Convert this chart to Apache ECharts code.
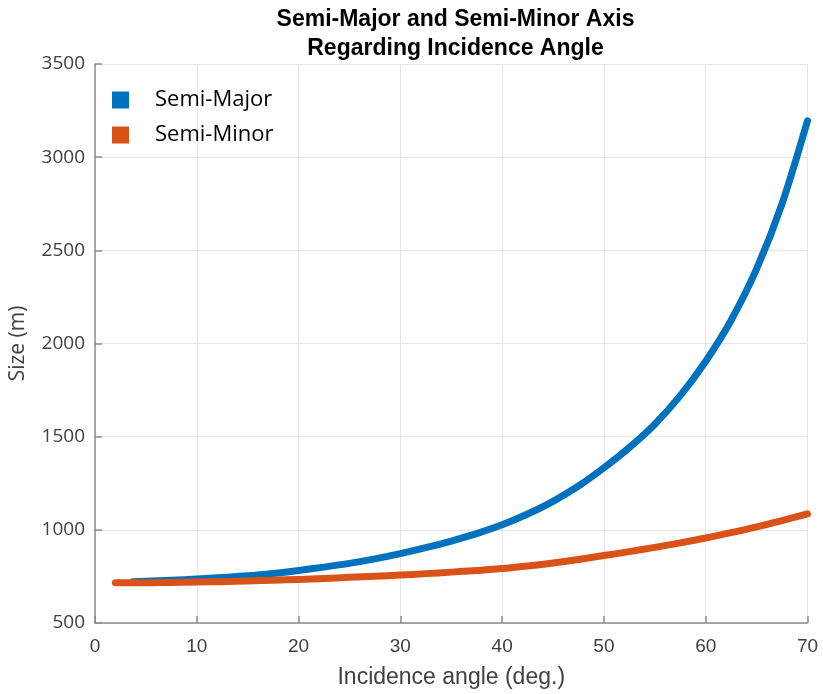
<!DOCTYPE html>
<html>
<head>
<meta charset="utf-8">
<script src="https://cdn.jsdelivr.net/npm/echarts@6/dist/echarts.min.js"></script>
<style>
  html, body { margin: 0; padding: 0; background: #ffffff; }
  #chart { width: 823px; height: 694px; }
</style>
</head>
<body>
<div id="chart"></div>
<script>
// Incidence angle (deg.) and ellipse axis sizes (m)
const majorAngles = [3.7, 5, 7.5, 10, 12.5, 15, 17.5, 20, 22.5, 25, 27.5, 30, 32.5, 35, 37.5, 40, 42.5, 45, 47.5, 50, 52.5, 55, 57.5, 60, 62.5, 65, 67.5, 70];
const majorSizes  = [722, 724, 729, 736, 744, 753, 766, 782, 800, 820, 844, 872, 904, 940, 980, 1027, 1085, 1153, 1235, 1333, 1442, 1567, 1720, 1905, 2125, 2400, 2750, 3195];

const minorAngles = [2, 5, 7.5, 10, 12.5, 15, 17.5, 20, 22.5, 25, 27.5, 30, 32.5, 35, 37.5, 40, 42.5, 45, 47.5, 50, 52.5, 55, 57.5, 60, 62.5, 65, 67.5, 70];
const minorSizes  = [716, 716, 718, 720, 722, 726, 730, 734, 739, 745, 751, 757, 765, 773, 782, 792, 806, 822, 841, 862, 883, 906, 930, 956, 985, 1016, 1050, 1086];

const xTicks = { min: 0, max: 70, step: 10 };
const yTicks = { min: 500, max: 3500, step: 500 };

const pairs = (xs, ys) => xs.map((x, i) => [x, ys[i]]);

const chart = echarts.init(document.getElementById('chart'), null, { renderer: 'canvas' });

const axisGray = '#8c8c8c';
const textGray = '#404040';

chart.setOption({
  backgroundColor: '#ffffff',
  animation: false,
  title: {
    text: 'Semi-Major and Semi-Minor Axis\nRegarding Incidence Angle',
    left: 450.5,
    textAlign: 'center',
    top: 0,
    textStyle: {
      fontFamily: '"Liberation Sans", Arial, sans-serif',
      fontWeight: 'bold',
      fontSize: 23,
      lineHeight: 29,
      color: '#000000'
    }
  },
  legend: {
    left: 107,
    top: 84,
    orient: 'vertical',
    icon: 'rect',
    itemWidth: 17,
    itemHeight: 17,
    itemGap: 13,
    textStyle: {
      fontFamily: '"Open Sans", "Noto Sans", sans-serif',
      fontSize: 22,
      color: '#000000',
      padding: [0, 0, 0, 21]
    },
    data: ['Semi-Major', 'Semi-Minor']
  },
  grid: {
    left: 93.5,
    right: 15.5,
    top: 64,
    bottom: 69.5,
    containLabel: false
  },
  xAxis: {
    type: 'value',
    min: xTicks.min,
    max: xTicks.max,
    interval: xTicks.step,
    name: 'Incidence angle (deg.)',
    nameLocation: 'middle',
    nameGap: 43,
    nameTextStyle: {
      fontFamily: '"Liberation Sans", Arial, sans-serif',
      fontSize: 23,
      color: textGray
    },
    axisLine: { show: true, lineStyle: { color: axisGray, width: 1.5 } },
    axisTick: { show: true, inside: true, length: 7, lineStyle: { color: axisGray, width: 1.5 } },
    axisLabel: {
      margin: 14,
      fontFamily: '"Liberation Sans", Arial, sans-serif',
      fontSize: 19,
      color: textGray
    },
    splitLine: { show: true, lineStyle: { color: '#e6e6e6', width: 1 } }
  },
  yAxis: {
    type: 'value',
    min: yTicks.min,
    max: yTicks.max,
    interval: yTicks.step,
    name: 'Size (m)',
    nameLocation: 'middle',
    nameGap: 66,
    nameTextStyle: {
      fontFamily: '"Open Sans", "Noto Sans", sans-serif',
      fontSize: 21,
      color: textGray
    },
    axisLine: { show: true, lineStyle: { color: axisGray, width: 1.5 } },
    axisTick: { show: true, inside: true, length: 7, lineStyle: { color: axisGray, width: 1.5 } },
    axisLabel: {
      margin: 10,
      fontFamily: '"Open Sans", "Noto Sans", sans-serif',
      fontSize: 19,
      color: textGray,
      formatter: (v) => String(v)
    },
    splitLine: { show: true, lineStyle: { color: '#e6e6e6', width: 1 } }
  },
  series: [
    {
      name: 'Semi-Major',
      type: 'line',
      data: pairs(majorAngles, majorSizes),
      smooth: 0.3,
      showSymbol: false,
      color: '#0072BD',
      lineStyle: { width: 7, cap: 'round', join: 'round' },
      z: 3
    },
    {
      name: 'Semi-Minor',
      type: 'line',
      data: pairs(minorAngles, minorSizes),
      smooth: 0.3,
      showSymbol: false,
      color: '#D95319',
      lineStyle: { width: 7, cap: 'round', join: 'round' },
      z: 4
    }
  ]
});
</script>
</body>
</html>
